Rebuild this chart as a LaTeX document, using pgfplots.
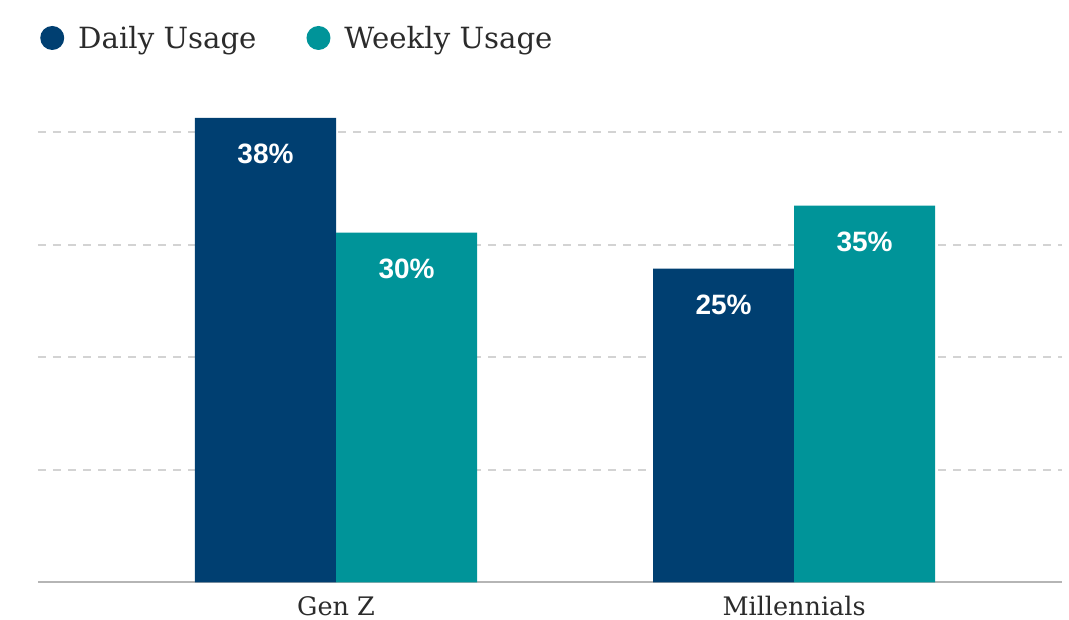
\documentclass[border=0pt]{standalone}
\usepackage{pgfplots}
\pgfplotsset{compat=1.18}
\usepackage{fontspec}
\setmainfont{DejaVu Serif}
\newfontfamily\labfont{Liberation Sans}
\definecolor{daily}{HTML}{003F71}
\definecolor{weekly}{HTML}{009499}
\definecolor{gridc}{HTML}{D3D3D3}
\definecolor{basec}{HTML}{B5B5B5}
\definecolor{txt}{HTML}{2B2B2B}
\pgfplotsset{circlegend/.style={legend image code/.code={\fill[##1] (12pt,0pt) circle (12pt);}}}
\begin{document}
\begin{tikzpicture}
\begin{axis}[
  at={(38pt,37.5pt)}, anchor=south west,
  scale only axis, width=1024pt, height=506.25pt,
  xmin=-0.6507, xmax=1.5850, ymin=0, ymax=45,
  ybar, bar width=0.3079,
  axis line style={draw=none}, tick style={draw=none}, major tick length=0pt,
  xtick={0,1}, xticklabels={Gen Z, Millennials},
  xticklabel style={font=\fontsize{25.5}{25.5}\selectfont, text=txt, inner sep=0pt, anchor=base, yshift=-33pt},
  ytick={10,20,30,40}, yticklabels={},
  ymajorgrids, grid style={gridc, line width=2pt, dash pattern=on 8pt off 7pt},
  point meta=explicit symbolic,
  nodes near coords,
  nodes near coords style={font=\labfont\bfseries\fontsize{28}{28}\selectfont, text=white, anchor=center, yshift=-36pt},
  legend columns=-1,
  legend style={draw=none, fill=none, inner sep=0pt, at={(0.002,1.0756)}, anchor=west, font=\fontsize{29.2}{29.2}\selectfont, text=txt, /tikz/every odd column/.append style={column sep=14pt}, /tikz/every even column/.append style={column sep=50pt}, nodes={inner sep=0pt}},
  clip=false,
]
\draw[basec, line width=2pt] (rel axis cs:0,0) -- (rel axis cs:1,0);
\addplot[fill=daily, draw=none, bar shift=-0.154, circlegend] coordinates {(0,41.3) [38\%] (1,27.9) [25\%]};
\addplot[fill=weekly, draw=none, bar shift=0.154, circlegend] coordinates {(0,31.1) [30\%] (1,33.5) [35\%]};
\legend{Daily Usage, Weekly Usage}
\end{axis}
\pgfresetboundingbox
\path (0,0) rectangle (1069pt,620pt);
\end{tikzpicture}
\end{document}
